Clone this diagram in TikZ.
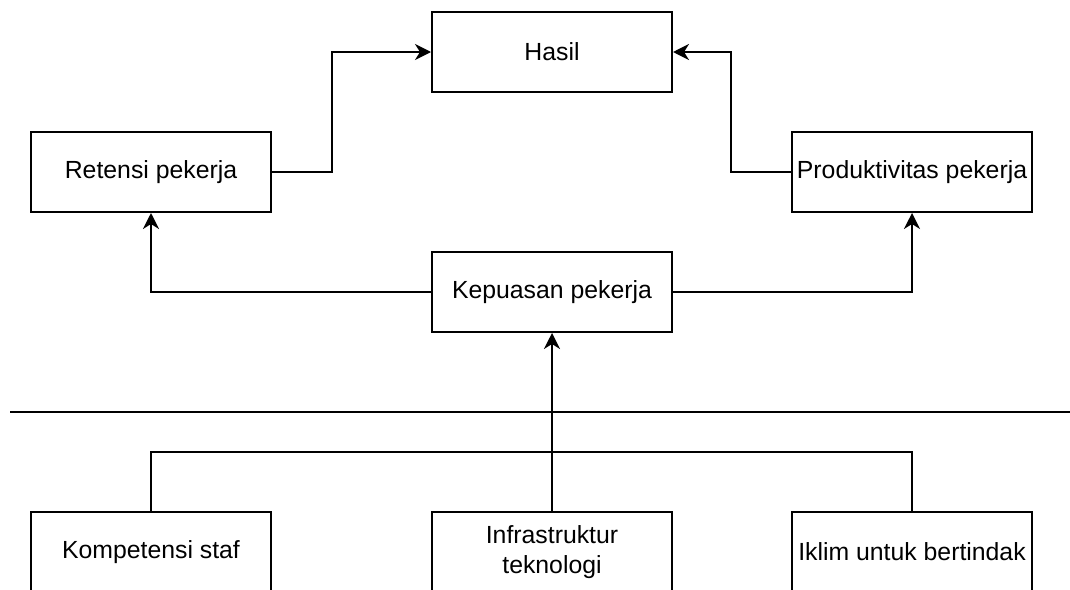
\documentclass[tikz,border=0pt]{standalone}
\usepackage{fontspec}
\setmainfont{Liberation Sans}
\usetikzlibrary{arrows.meta}

\tikzset{
  box/.style={draw, line width=1pt, minimum width=120pt, minimum height=40pt,
    inner sep=0pt, align=center, font=\fontsize{12.4}{15}\selectfont},
  arr/.style={line width=1pt, -{Stealth[length=8pt, width=8pt, inset=2.5pt]}},
  line/.style={line width=1pt}
}

\begin{document}
\begin{tikzpicture}[x=0.5pt, y=-0.5pt]
			%%%%% START %%%%%
			\useasboundingbox (0, 0) rectangle (1070, 589);
			
			\node[box] (hasil) at (552, 52) {Hasil};
			\node[box] (retensi) at (151, 172) {Retensi pekerja};
			\node[box] (produktivitas) at (912, 172) {Produktivitas pekerja};
			\node[box] (kepuasan) at (552, 292) {Kepuasan pekerja};
			
			\draw[arr] (retensi.east) -- ++(60, 0) |- (hasil.west);
			\draw[arr] (produktivitas.west) -- ++(-60, 0) |- (hasil.east);
			\draw[arr] (kepuasan.west) -| (retensi.south);
			\draw[arr] (kepuasan.east) -| (produktivitas.south);
			
			\coordinate (divL) at (10, 412);
			\coordinate (divR) at (1070, 412);
			\draw[line] (divL) -- (divR);
			
			\node[box] (kompetensi) at (151, 552) {Kompetensi staf};
			\node[box] (infra) at (552, 552) {Infrastruktur\\teknologi};
			\node[box] (iklim) at (912, 552) {Iklim untuk bertindak};
			
			\coordinate (bus) at (552, 452);
			\draw[line] (kompetensi.north) |- (bus) -| (iklim.north);
			\draw[arr] (infra.north) -- (kepuasan.south);
			
			%%%%% END %%%%%
\end{tikzpicture}
\end{document}
